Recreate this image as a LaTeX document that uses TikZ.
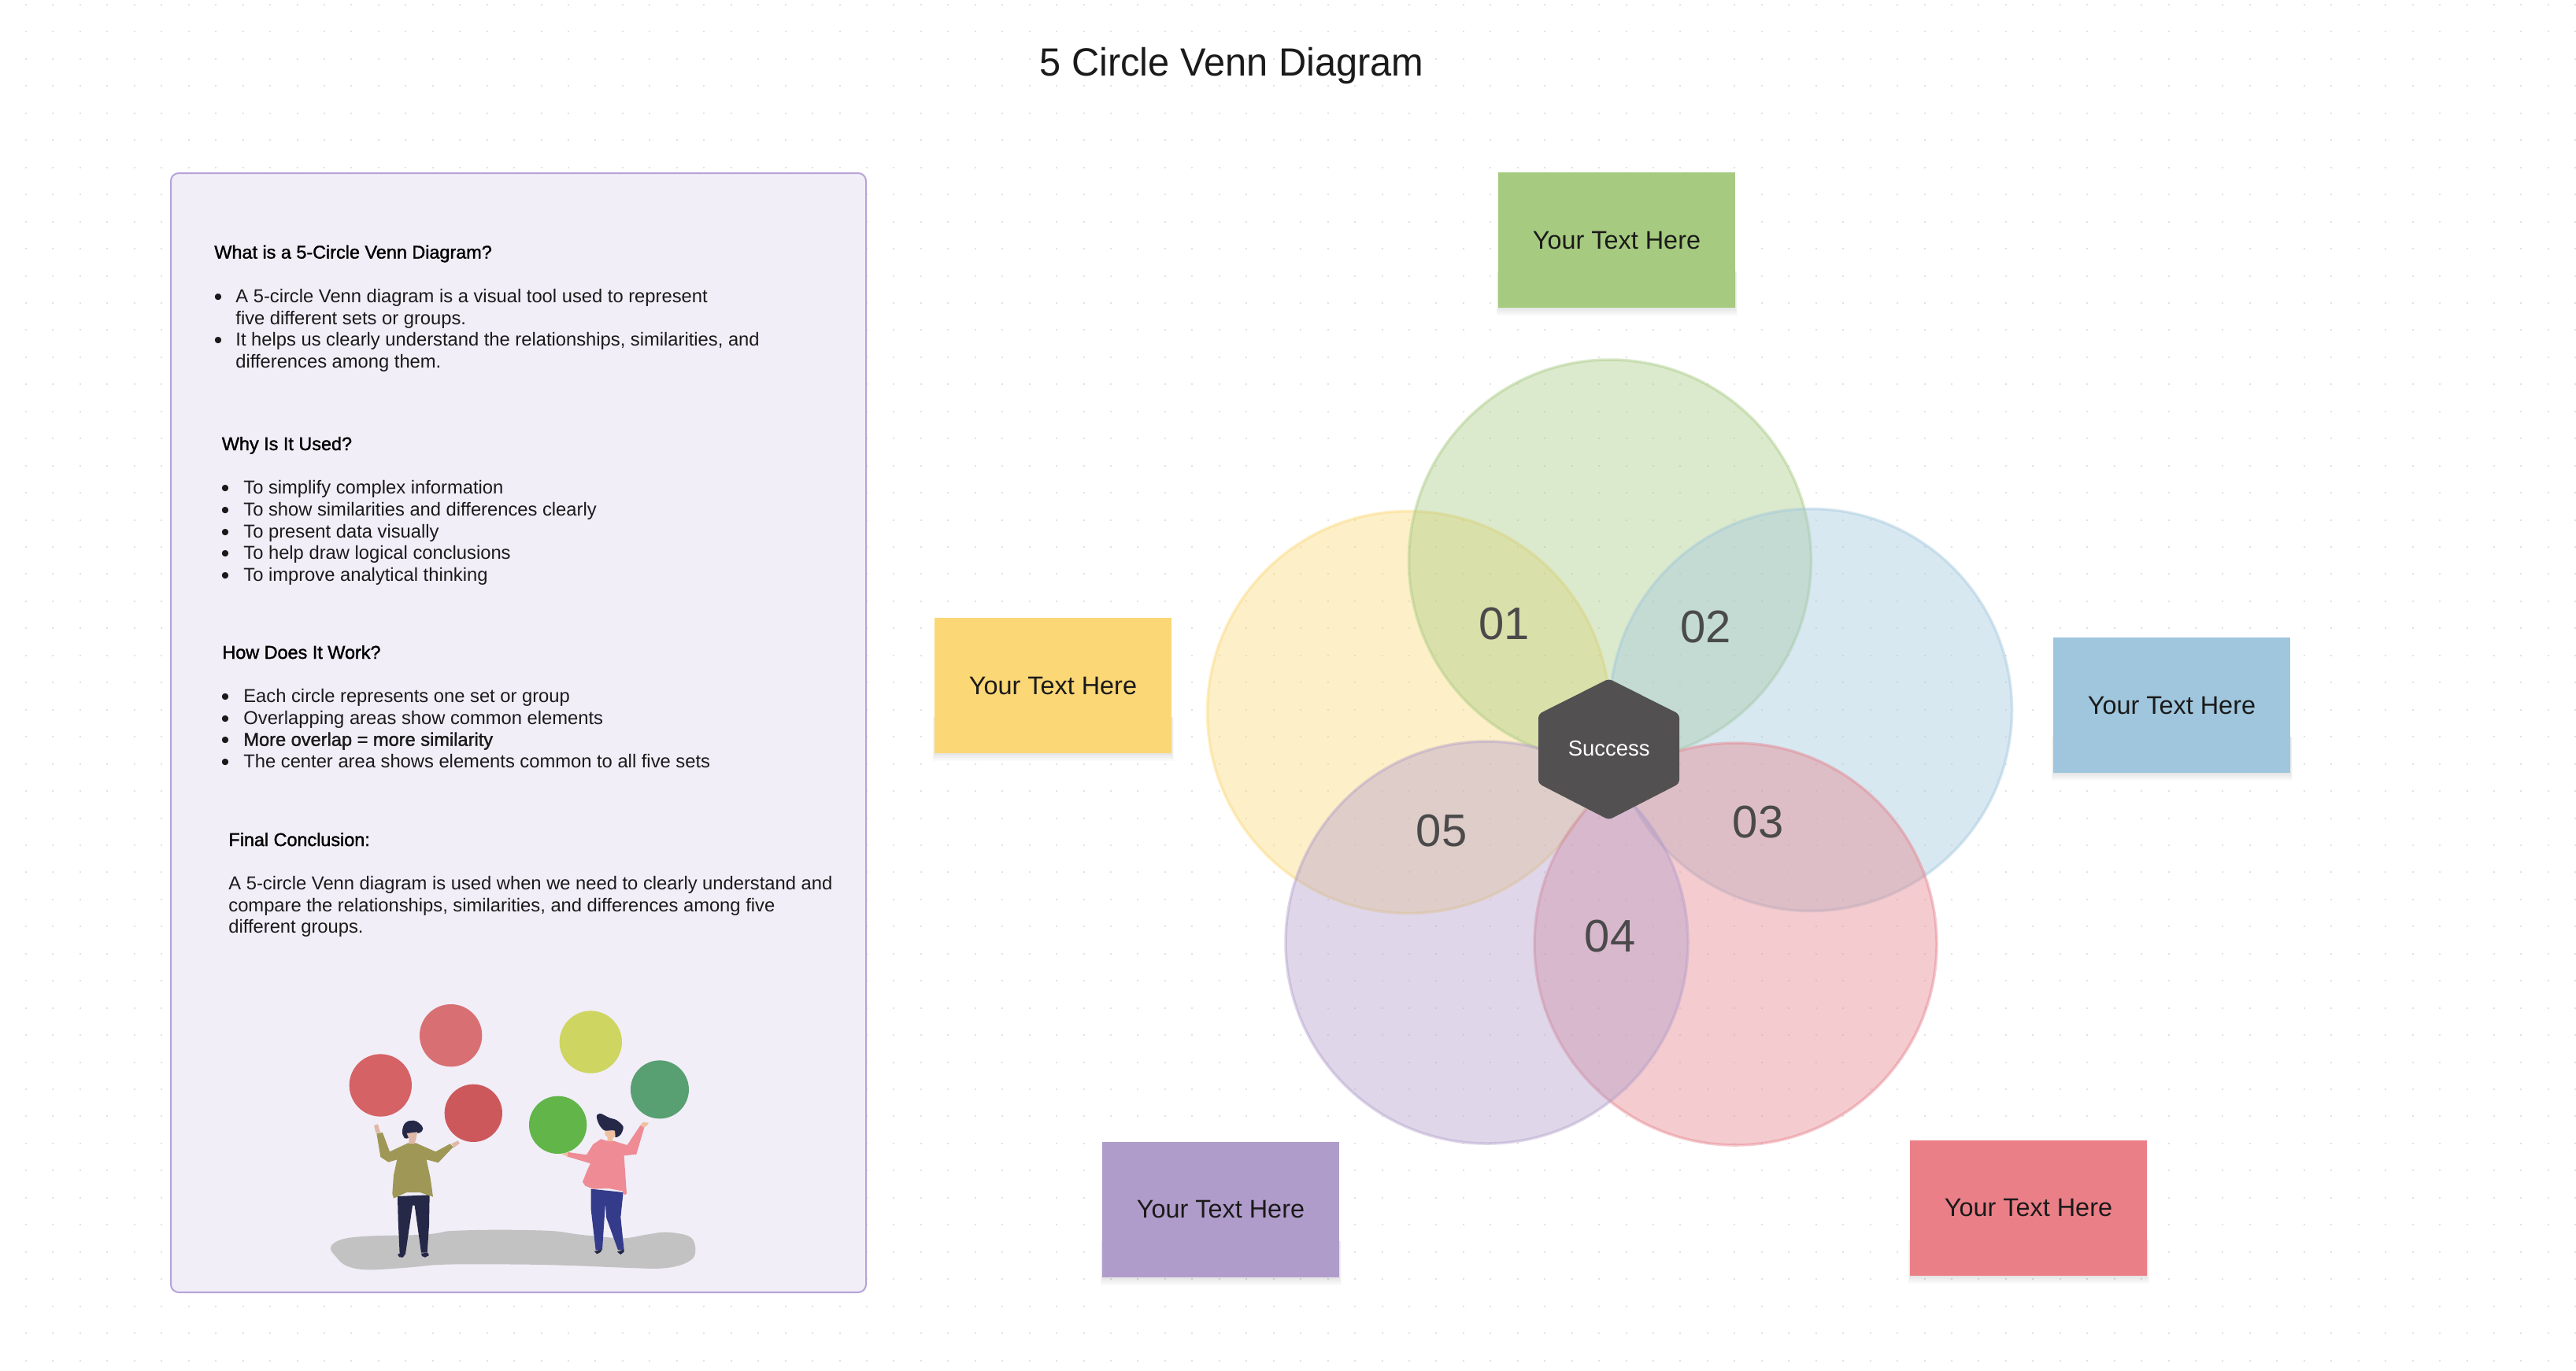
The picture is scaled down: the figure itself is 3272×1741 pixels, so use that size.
\documentclass[tikz,border=0pt]{standalone}
\usepackage{fontspec}
\setmainfont{Liberation Sans}
\newfontfamily\titlefont[FakeStretch=0.975]{Liberation Sans}
\newfontfamily\mediumfont[FakeBold=1.6]{Liberation Sans}
\usetikzlibrary{calc,shapes.geometric}

\definecolor{setgreen}{HTML}{A6CA80}
\definecolor{setyellow}{HTML}{FBD775}
\definecolor{setblue}{HTML}{9FC6DC}
\definecolor{setpurple}{HTML}{B09CCA}
\definecolor{setred}{HTML}{EB7F87}
\definecolor{setredsoft}{HTML}{E57F88}
\definecolor{hexgrey}{HTML}{525051}
\definecolor{numgrey}{HTML}{4B4A4B}
\definecolor{inkdark}{HTML}{1A1A1A}
\definecolor{panelfill}{HTML}{F1EEF8}
\definecolor{panelline}{HTML}{B7A3D8}
\definecolor{griddot}{HTML}{E2E2E2}
\definecolor{navy}{HTML}{262848}
\definecolor{olive}{HTML}{9F9755}
\definecolor{pinkshirt}{HTML}{EE8B94}
\definecolor{bluepants}{HTML}{343B8A}
\definecolor{skinman}{HTML}{E0B8A8}
\definecolor{skinwoman}{HTML}{EEC0A0}
\definecolor{ground}{HTML}{C2C2C2}
\definecolor{ballA}{HTML}{D87073}
\definecolor{ballB}{HTML}{D56265}
\definecolor{ballC}{HTML}{CD585B}
\definecolor{ballD}{HTML}{CED560}
\definecolor{ballE}{HTML}{589F72}
\definecolor{ballF}{HTML}{62B549}

% sizes are given in image pixels; one pixel is half a point
\newcommand{\pxfont}[1]{\fontsize{\fpeval{#1/2}pt}{\fpeval{#1/2*1.2}pt}\selectfont}

\tikzset{
  x=0.5pt, y=-0.5pt,
  setcircle/.style={circle, minimum size=255.5pt, inner sep=0pt, line width=1.75pt,
    draw=#1, draw opacity=0.42, fill=#1, fill opacity=0.4},
  stickynote/.style={rectangle, minimum width=150.5pt, minimum height=86pt, inner sep=0pt,
    fill=#1, text=inkdark, font=\pxfont{32.4}},
  numlabel/.style={text=numgrey, font=\pxfont{58}, inner sep=0pt},
  heading/.style={anchor=base west, inner sep=0pt, text=black, font=\mediumfont\pxfont{23.4}},
  bodyline/.style={anchor=base west, inner sep=0pt, text=inkdark, font=\pxfont{23.75}},
  bulletmark/.style={anchor=base, inner sep=0pt, text=inkdark, font=\pxfont{30}},
  dotrow/.style={griddot, line width=1pt, dash pattern=on 1pt off 16.225pt},
}

% soft drop shadow hanging below a note, given by its centre
\newcommand{\noteshadow}[2]{%
  \foreach \g in {2,4,6,8,10}{
    \fill[black, opacity=0.018] ({#1-150.5-\g/4},{#2+40}) rectangle ({#1+150.5+\g/4},{#2+86+\g});
  }%
}

\begin{document}
\begin{tikzpicture}
\useasboundingbox (0,0) rectangle (3272,1741);
\fill[white] (0,0) rectangle (3272,1741);

% dotted canvas
\foreach \j in {0,...,50}{
  \draw[dotrow] (32,{6+34.45*\j}) -- (3272,{6+34.45*\j});
}

% title
\node[anchor=base, inner sep=0pt, text=inkdark, font=\titlefont\pxfont{50}] (title) at (1564.5,96) {5 Circle Venn Diagram};

% left information panel
\node[rectangle, rounded corners=5pt, draw=panelline, line width=1pt, fill=panelfill,
  minimum width=441.5pt, minimum height=711pt, inner sep=0pt, anchor=north west] (panel) at (216,219) {};

\node[heading] (h1) at (272,328.5) {What is a 5-Circle Venn Diagram?};
\node[bulletmark] (b1a) at (277,387) {•};
\node[bodyline] (l1a) at (299,384) {A 5-circle Venn diagram is a visual tool used to represent};
\node[bodyline] (l1b) at (299,412) {five different sets or groups.};
\node[bulletmark] (b1b) at (277,442.5) {•};
\node[bodyline] (l1c) at (299,439.5) {It helps us clearly understand the relationships, similarities, and};
\node[bodyline] (l1d) at (299,467.5) {differences among them.};

\node[heading] (h2) at (281.5,572) {Why Is It Used?};
\foreach \y/\t [count=\n] in {627.5/To simplify complex information,
    655/To show similarities and differences clearly,
    683/To present data visually,
    710.7/To help draw logical conclusions,
    738/To improve analytical thinking}{
  \node[bulletmark] (b2\n) at (286,\y+3) {•};
  \node[bodyline] (l2\n) at (309,\y) {\t};
}

\node[heading] (h3) at (282,837) {How Does It Work?};
\foreach \y/\t [count=\n] in {892.7/Each circle represents one set or group,
    920/Overlapping areas show common elements,
    947.7/{\mediumfont\pxfont{23.6}More overlap = more similarity},
    975/The center area shows elements common to all five sets}{
  \node[bulletmark] (b3\n) at (286,\y+3) {•};
  \node[bodyline] (l3\n) at (309,\y) {\t};
}

\node[heading] (h4) at (290,1075) {Final Conclusion:};
\node[bodyline] (p1) at (290,1130.7) {A 5-circle Venn diagram is used when we need to clearly understand and};
\node[bodyline] (p2) at (290,1158) {compare the relationships, similarities, and differences among five};
\node[bodyline] (p3) at (290,1185.3) {different groups.};

% two people with coloured balls
\begin{scope}[shift={(400,1240)}, x=0.5pt/3, y=-0.5pt/3]
  \fill[ground] plot[smooth cycle, tension=0.6] coordinates {(60,1035) (100,1005) (200,992) (400,987) (470,980) (520,972) (700,968) (900,972) (1000,985) (1100,995) (1180,1000) (1270,985) (1340,977) (1420,990) (1447,1020) (1445,1070) (1400,1100) (1320,1115) (1200,1113) (1000,1105) (800,1100) (500,1100) (350,1112) (200,1120) (120,1105) (80,1070)};

  % man
  \fill[navy] (315,840) -- (437,835) -- (435,950) -- (428,1055) -- (405,1055) -- (380,875) -- (372,875) -- (345,1060) -- (323,1060) -- (317,930) -- cycle;
  \fill[navy] (315,1062) -- (330,1055) -- (345,1060) -- (335,1073) -- (322,1072) -- cycle;
  \fill[navy] (405,1058) -- (430,1055) -- (435,1065) -- (420,1073) -- (408,1068) -- cycle;
  \fill[olive] (355,637) -- (385,637) -- (460,670) -- (515,640) -- (527,652) -- (470,712) -- (425,700) -- (440,770) -- (450,842) -- (400,825) -- (350,825) -- (300,848) -- (295,830) -- (300,760) -- (313,700) -- (280,710) -- (250,690) -- (235,600) -- (258,597) -- (285,670) -- cycle;
  \fill[navy] plot[smooth cycle, tension=0.7] coordinates {(333,590) (345,560) (375,551) (398,562) (412,582) (400,598) (385,600) (350,620) (337,610)};
  \fill[skinman] (350,600) -- (390,595) -- (385,625) -- (378,640) -- (358,640) -- (358,620) -- cycle;
  \fill[skinman] (225,570) -- (240,565) -- (250,598) -- (232,598) -- cycle;
  \fill[skinman] (520,640) -- (545,628) -- (552,638) -- (530,655) -- cycle;

  % woman
  \fill[bluepants] (1052,812) -- (1175,825) -- (1165,920) -- (1178,1045) -- (1155,1045) -- (1110,920) -- (1107,865) -- (1095,1045) -- (1070,1045) -- (1052,890) -- cycle;
  \fill[navy] (1065,1050) -- (1092,1042) -- (1090,1052) -- (1075,1060) -- cycle;
  \fill[navy] (1152,1052) -- (1178,1042) -- (1178,1052) -- (1165,1062) -- cycle;
  \fill[pinkshirt] (1090,622) -- (1110,628) -- (1135,628) -- (1190,645) -- (1240,570) -- (1255,578) -- (1225,680) -- (1178,685) -- (1188,830) -- (1180,835) -- (1172,820) -- (1120,810) -- (1060,812) -- (1030,800) -- (1020,785) -- (1040,735) -- (1050,715) -- (960,688) -- (965,672) -- (1035,682) -- (1060,642) -- cycle;
  \fill[navy] plot[smooth cycle, tension=0.5] coordinates {(1075,530) (1090,525) (1120,540) (1150,550) (1175,575) (1165,605) (1145,615) (1140,590) (1105,590) (1085,570) (1075,545)};
  \fill[skinwoman] (1105,590) -- (1143,590) -- (1145,610) -- (1135,620) -- (1135,630) -- (1115,630) -- (1115,615) -- (1105,605) -- cycle;
  \fill[skinwoman] (1240,570) -- (1250,558) -- (1272,560) -- (1265,570) -- (1255,578) -- cycle;
  \fill[skinwoman] (940,680) -- (965,672) -- (962,688) -- cycle;

  % balls
  \fill[ballA] (518,227) circle[radius=119];
  \fill[ballB] (250,417) circle[radius=119];
  \fill[ballC] (604,523) circle[radius=110];
  \fill[ballD] (1051,252) circle[radius=119];
  \fill[ballE] (1314,433) circle[radius=111];
  \fill[ballF] (926,568) circle[radius=110];
\end{scope}

% five overlapping sets
\node[setcircle=setyellow] (cyellow) at (1789,905) {};
\node[setcircle=setgreen] (cgreen) at (2045,712.5) {};
\node[setcircle=setblue] (cblue) at (2300,902) {};
\node[setcircle=setredsoft] (cred) at (2204.5,1199.5) {};
\node[setcircle=setpurple] (cpurple) at (1888.5,1197.5) {};

\node[numlabel] (n1) at (1910.5,793) {01};
\node[numlabel] (n2) at (2166.5,796.5) {02};
\node[numlabel] (n3) at (2233,1045) {03};
\node[numlabel] (n4) at (2045,1189.5) {04};
\node[numlabel] (n5) at (1831,1055.5) {05};

% centre hexagon
\fill[hexgrey, draw=hexgrey, line width=1pt, line join=round, rounded corners=2pt]
  (2043.5,863.5) -- (2132,908) -- (2132,995) -- (2043.5,1040.5) -- (1955,995) -- (1955,908) -- cycle;
\node[inner sep=0pt, text=white, font=\pxfont{27.5}] (success) at (2043.7,951) {Success};

% labelled notes
\noteshadow{2053.5}{305.3}
\node[stickynote=setgreen] (ngreen) at (2053.5,305.3) {Your Text Here};
\noteshadow{1337.5}{871}
\node[stickynote=setyellow] (nyellow) at (1337.5,871) {Your Text Here};
\noteshadow{2758.5}{896}
\node[stickynote=setblue] (nblue) at (2758.5,896) {Your Text Here};
\noteshadow{1550.5}{1536.5}
\node[stickynote=setpurple] (npurple) at (1550.5,1536.5) {Your Text Here};
\noteshadow{2576.5}{1534.5}
\node[stickynote=setred] (nred) at (2576.5,1534.5) {Your Text Here};
\end{tikzpicture}
\end{document}
